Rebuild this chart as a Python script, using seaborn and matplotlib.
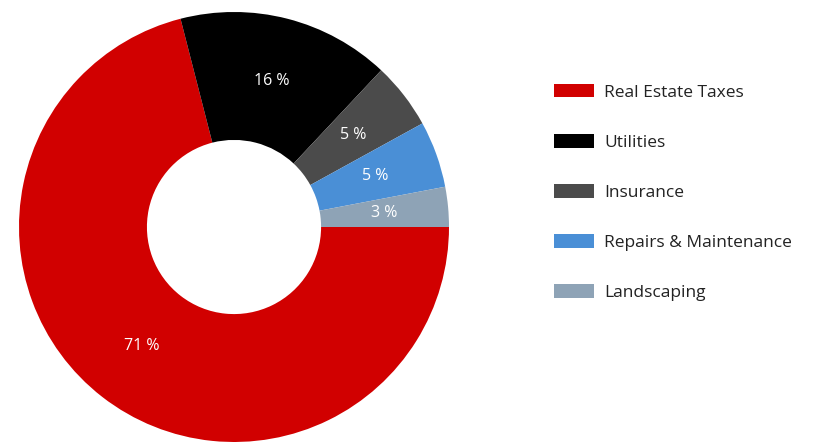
import matplotlib
matplotlib.use("Agg")
import matplotlib.pyplot as plt
import seaborn as sns

# Operating expense breakdown
categories = ["Real Estate Taxes", "Utilities", "Insurance",
              "Repairs & Maintenance", "Landscaping"]
shares = [71, 16, 5, 5, 3]
colors = ["#d10000", "#000000", "#4b4b4b", "#4a8fd6", "#8ea3b6"]

sns.set_theme(style="white")
plt.rcParams["font.family"] = ["Open Sans", "DejaVu Sans"]

W, H = 832, 442
fig = plt.figure(figsize=(W / 100, H / 100), dpi=100)
fig.patch.set_facecolor("white")

cx, cy, r = 234, 227, 215
ax = fig.add_axes([(cx - r) / W, (H - cy - r) / H, 2 * r / W, 2 * r / H])

fs_leg = 12.5
wedges, texts, autotexts = ax.pie(
    shares,
    colors=colors,
    startangle=0,
    counterclock=False,
    autopct=lambda p: f"{p:.0f} %",
    pctdistance=0.70,
    radius=1.0,
    wedgeprops=dict(width=0.595, edgecolor="none"),
    textprops=dict(color="white", fontsize=11.5),
)
ax.set_xlim(-1, 1)
ax.set_ylim(-1, 1)
ax.set_aspect("equal")
ax.axis("off")

leg = fig.legend(
    wedges, categories,
    loc="upper left",
    bbox_to_anchor=(538 / W, 1 - 68 / H),
    frameon=False,
    fontsize=fs_leg,
    handlelength=29 / fs_leg,
    handleheight=10.5 / fs_leg,
    handletextpad=7.5 / fs_leg,
    labelspacing=1.92,
)
for t in leg.get_texts():
    t.set_color("#222222")

fig.savefig("out.png", dpi=100, facecolor="white")
